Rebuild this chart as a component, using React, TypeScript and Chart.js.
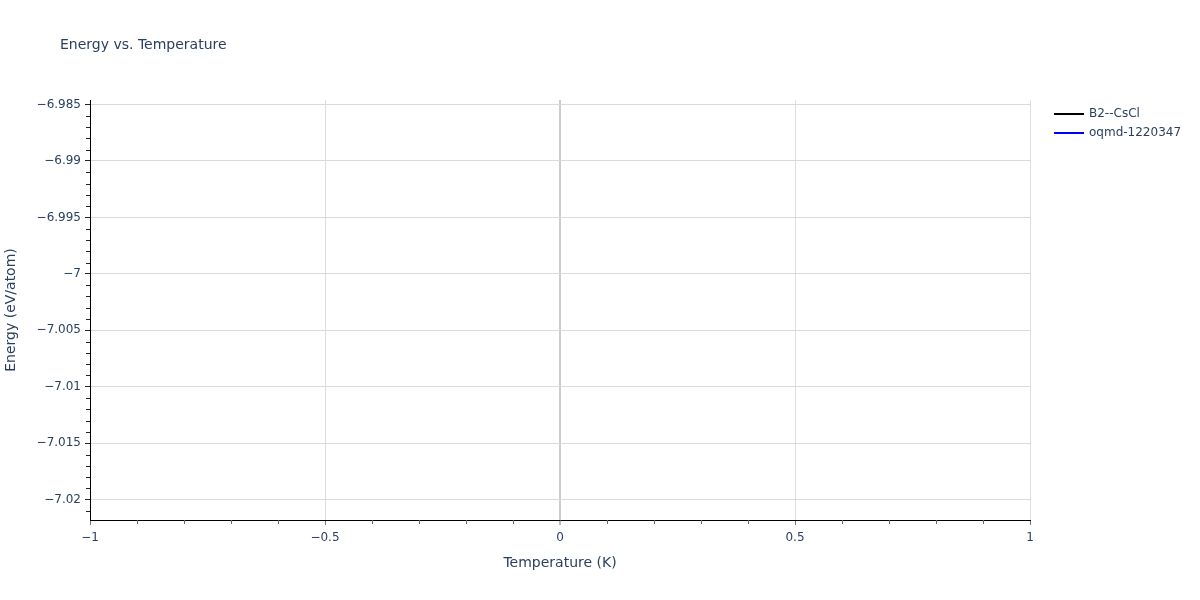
import React, { useEffect, useRef } from 'react';
import { Chart, registerables } from 'chart.js';

Chart.register(...registerables);

// Each series holds a single point at T = 0 K (drawn as lines only, so nothing shows)
const temperatures = [0];
const b2Energy = [-7.0032];
const oqmdEnergy = [-7.0032];
const seriesNames = ['B2--CsCl', 'oqmd-1220347'];
const seriesColors = ['#000000', '#0000ff'];

const xTicks = [-1, -0.5, 0, 0.5, 1];
const yTicks = [-6.985, -6.99, -6.995, -7, -7.005, -7.01, -7.015, -7.02];

const FONT = '"DejaVu Sans", Verdana, sans-serif';
const TEXT = '#2a3f5f';

const fmt = (v: number) => String(Number(v.toFixed(3))).replace('-', '\u2212');

// minor ticks, title, axis titles and legend drawn in plotly style
const decorations = {
  id: 'decorations',
  afterDraw(chart: any) {
    const { ctx, chartArea, scales } = chart;
    const x = scales.x;
    const y = scales.y;
    ctx.save();
    ctx.lineWidth = 1;

    ctx.strokeStyle = '#666';
    for (let i = -10; i <= 10; i++) {
      if (i % 5 === 0) continue;
      const px = Math.round(x.getPixelForValue(i / 10)) + 0.5;
      ctx.beginPath();
      ctx.moveTo(px, chartArea.bottom);
      ctx.lineTo(px, chartArea.bottom + 4);
      ctx.stroke();
    }
    ctx.strokeStyle = '#222';
    for (let i = -7022; i <= -6984; i++) {
      if (i % 5 === 0) continue;
      const v = i / 1000;
      if (v < y.min || v > y.max) continue;
      const py = Math.round(y.getPixelForValue(v)) + 0.5;
      ctx.beginPath();
      ctx.moveTo(chartArea.left - 4, py);
      ctx.lineTo(chartArea.left, py);
      ctx.stroke();
    }

    ctx.fillStyle = TEXT;
    ctx.textBaseline = 'middle';
    ctx.font = `14px ${FONT}`;
    ctx.textAlign = 'left';
    ctx.fillText('Energy vs. Temperature', 60, 45);

    ctx.textAlign = 'center';
    ctx.fillText('Temperature (K)', (chartArea.left + chartArea.right) / 2, 563);
    ctx.save();
    ctx.translate(11, (chartArea.top + chartArea.bottom) / 2);
    ctx.rotate(-Math.PI / 2);
    ctx.fillText('Energy (eV/atom)', 0, 0);
    ctx.restore();

    ctx.font = `12px ${FONT}`;
    ctx.textAlign = 'left';
    seriesNames.forEach((name, i) => {
      const ly = 114 + i * 19;
      ctx.strokeStyle = seriesColors[i];
      ctx.lineWidth = 2;
      ctx.beginPath();
      ctx.moveTo(1054, ly);
      ctx.lineTo(1084, ly);
      ctx.stroke();
      ctx.fillStyle = TEXT;
      ctx.fillText(name, 1089, ly);
    });
    ctx.restore();
  },
};

const App: React.FC = () => {
  const chartRef = useRef<HTMLCanvasElement>(null);
  const chartInstance = useRef<Chart | null>(null);

  useEffect(() => {
    document.body.style.margin = '0';
    if (!chartRef.current) return;
    if (chartInstance.current) chartInstance.current.destroy();

    chartInstance.current = new Chart(chartRef.current, {
      type: 'line',
      data: {
        datasets: [
          {
            label: seriesNames[0],
            data: temperatures.map((t, i) => ({ x: t, y: b2Energy[i] })),
            borderColor: seriesColors[0],
            borderWidth: 2,
            pointRadius: 0,
          },
          {
            label: seriesNames[1],
            data: temperatures.map((t, i) => ({ x: t, y: oqmdEnergy[i] })),
            borderColor: seriesColors[1],
            borderWidth: 2,
            pointRadius: 0,
          },
        ],
      },
      plugins: [decorations],
      options: {
        animation: false,
        responsive: true,
        maintainAspectRatio: false,
        layout: { padding: { left: 0, right: 170, top: 100, bottom: 0 } },
        plugins: { legend: { display: false }, tooltip: { enabled: false } },
        scales: {
          x: {
            type: 'linear',
            min: -1,
            max: 1,
            afterFit: (s: any) => { s.height = 80; },
            afterBuildTicks: (s: any) => { s.ticks = xTicks.map((v) => ({ value: v })); },
            ticks: {
              color: TEXT,
              font: { family: FONT, size: 12 },
              padding: 6,
              maxRotation: 0,
              callback: (v: any) => fmt(Number(v)),
            },
            grid: {
              color: (c: any) => (c.tick && c.tick.value === 0 ? '#cccccc' : '#dedede'),
              lineWidth: (c: any) => (c.tick && c.tick.value === 0 ? 2 : 1),
              tickColor: '#777',
              tickLength: 5,
              tickWidth: 1,
            },
            border: { display: true, color: '#000', width: 1 },
          },
          y: {
            type: 'linear',
            min: -7.0218,
            max: -6.9846,
            afterFit: (s: any) => { s.width = 90; },
            afterBuildTicks: (s: any) => { s.ticks = yTicks.map((v) => ({ value: v })); },
            ticks: {
              color: TEXT,
              font: { family: FONT, size: 12 },
              padding: 4,
              callback: (v: any) => fmt(Number(v)),
            },
            grid: {
              color: '#dadada',
              lineWidth: 1,
              tickColor: '#222',
              tickLength: 5,
              tickWidth: 1,
            },
            border: { display: true, color: '#000', width: 1 },
          },
        },
      },
    });

    return () => {
      if (chartInstance.current) {
        chartInstance.current.destroy();
        chartInstance.current = null;
      }
    };
  }, []);

  return (
    <div style={{ position: 'relative', width: 1200, height: 600, background: '#fff' }}>
      <canvas ref={chartRef}></canvas>
    </div>
  );
};

export default App;
